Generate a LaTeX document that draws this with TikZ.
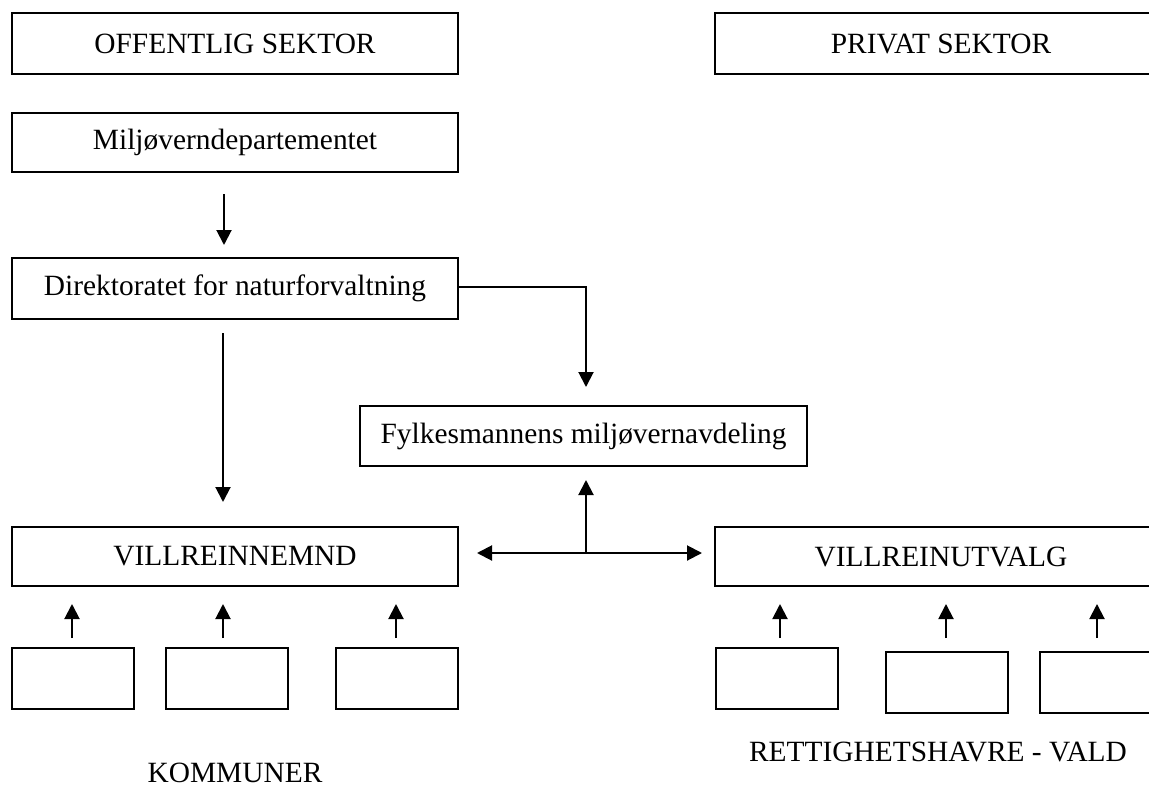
\documentclass[tikz,border=0pt]{standalone}
\usepackage{fontspec}
\setmainfont{Liberation Serif}
\usetikzlibrary{arrows.meta,calc}
\begin{document}
\begin{tikzpicture}[x=1pt,y=-1pt,
  box/.style={draw, line width=2pt, rectangle, inner sep=0pt, minimum width=446pt, minimum height=60pt, font=\fontsize{29.4}{34}\selectfont},
  small/.style={draw, line width=2pt, rectangle, inner sep=0pt, minimum width=122pt, minimum height=61pt},
  lbl/.style={inner sep=0pt, font=\fontsize{29.4}{34}\selectfont},
  arr/.style={line width=2pt, -{Triangle[width=15pt,length=15pt]}},
  darr/.style={line width=2pt, {Triangle[width=15pt,length=15pt]}-{Triangle[width=15pt,length=15pt]}},
  ln/.style={line width=2pt}]
\clip (0,0) rectangle (1149,787);
\useasboundingbox (0,0) rectangle (1149,787);
\fill[white] (0,0) rectangle (1149,787);
% boxes
\node[box, minimum height=61pt] (off) at (235,43.5) {OFFENTLIG SEKTOR};
\node[box, minimum width=452pt, minimum height=61pt] (priv) at (941,43.5) {PRIVAT SEKTOR};
\node[box, minimum height=59pt] (milj) at (235,142.5) {Miljøverndepartementet};
\node[box, minimum height=61pt] (dir) at (235,288.5) {Direktoratet for naturforvaltning};
\node[box, minimum width=447pt] (fylk) at (583.5,436) {Fylkesmannens miljøvernavdeling};
\node[box, minimum height=59pt] (nemnd) at (235,556.5) {VILLREINNEMND};
\node[box, minimum width=452pt, minimum height=59pt] (utvalg) at (941,556.5) {VILLREINUTVALG};
% small boxes
\node[small] (k1) at (73,678.5) {};
\node[small] (k2) at (227,678.5) {};
\node[small] (k3) at (397,678.5) {};
\node[small] (r1) at (777,678.5) {};
\node[small] (r2) at (947,682.5) {};
\node[small] (r3) at (1101,682.5) {};
% labels
\node[lbl] (kom) at (235,773) {KOMMUNER};
\node[lbl] (ret) at (938,752) {RETTIGHETSHAVRE - VALD};
% helper x-coordinates
\coordinate (xa) at (224,0);
\coordinate (xb) at (223,0);
\coordinate (xf) at (586,0);
\coordinate (hub) at (586,553);
\coordinate (nemE) at (458,553);
\coordinate (utvW) at (716,553);
% connectors
\draw[arr, shorten <=21pt, shorten >=12pt] (milj.south -| xa) -- (dir.north -| xa);
\draw[arr, shorten <=13pt, shorten >=24pt] (dir.south -| xb) -- (nemnd.north -| xb);
\draw[arr, shorten >=18pt] (dir.east |- 0,287) -| (fylk.north -| xf);
\draw[arr, shorten >=13pt] (hub) -- (fylk.south -| xf);
\draw[darr, shorten <=19pt, shorten >=14pt] (nemE) -- (utvW);
% small arrows
\foreach \b/\x in {k1/72,k2/223,k3/396}{
  \draw[arr, shorten <=9pt, shorten >=17pt] (\b.north -| \x,0) -- (nemnd.south -| \x,0);
}
\draw[arr, shorten <=9pt, shorten >=17pt] (r1.north -| 780,0) -- (utvalg.south -| 780,0);
\draw[arr, shorten <=13pt, shorten >=17pt] (r2.north -| 946,0) -- (utvalg.south -| 946,0);
\draw[arr, shorten <=13pt, shorten >=17pt] (r3.north -| 1097,0) -- (utvalg.south -| 1097,0);
\end{tikzpicture}
\end{document}
